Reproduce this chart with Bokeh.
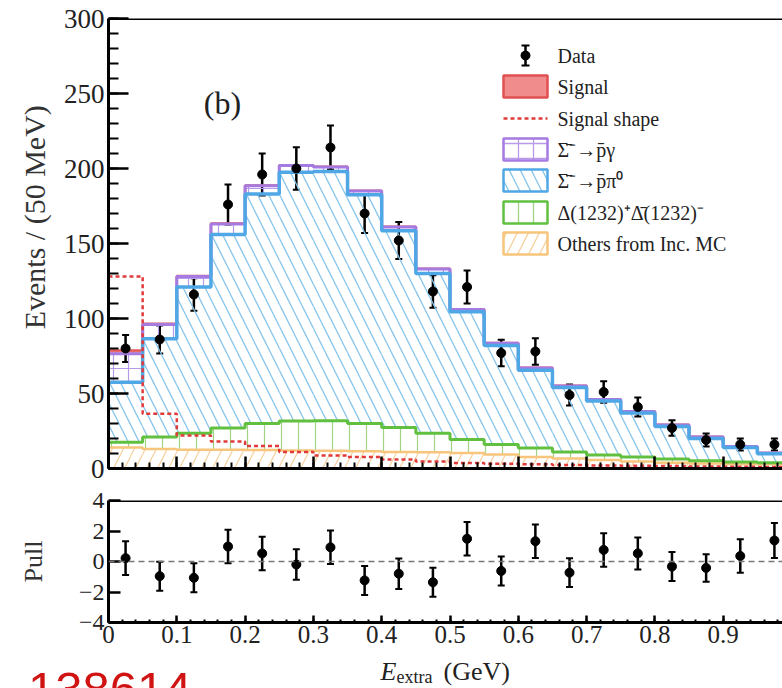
import math
from bokeh.plotting import figure
from bokeh.models import (Range1d, FixedTicker, Span, Label, Whisker, TeeHead,
                          ColumnDataSource)
from bokeh.layouts import column
from bokeh.embed import file_html
from bokeh.resources import INLINE

# ---------------- data ----------------
bin_edges = [0.0, 0.05, 0.1, 0.15, 0.2, 0.25, 0.3, 0.35, 0.4, 0.45, 0.5,
             0.55, 0.6, 0.65, 0.7, 0.75, 0.8, 0.85, 0.9, 0.95, 1.0]
bin_centers = [0.025, 0.075, 0.125, 0.175, 0.225, 0.275, 0.325, 0.375, 0.425, 0.475,
               0.525, 0.575, 0.625, 0.675, 0.725, 0.775, 0.825, 0.875, 0.925, 0.975]
data_counts = [80, 86, 116, 176, 196, 200, 214, 170, 152, 118,
               121, 77, 78, 49, 51, 41, 27, 19, 16, 16]
data_err = [9, 9.3, 10.8, 13.3, 14, 14.1, 14.6, 13, 12.3, 10.9,
            11, 8.8, 8.8, 7, 7.1, 6.4, 5.2, 4.4, 4, 4]
# cumulative stack tops
top_others = [14, 13, 12.5, 12.5, 12.3, 12, 11.8, 11.5, 11, 10.8,
              10.3, 9.3, 7.6, 6.7, 5.6, 4.6, 3.8, 3.3, 3.0, 2.8]
top_delta = [17.5, 21, 23.5, 27, 30, 31.6, 31.8, 30, 27.3, 23.5,
             19.3, 16, 13.6, 11, 9, 7.6, 6.4, 5.2, 4.4, 3.8]
top_sigma_pi0 = [57.5, 86.5, 121, 156, 183, 197.5, 198, 182.5, 158.5, 130,
                 104.5, 82, 65.5, 54, 45, 37, 28, 20, 14, 9.8]
top_sigma_gamma = [76.5, 96, 128, 163, 188.5, 202, 201, 185, 161, 133,
                   106, 83.5, 67, 55, 46, 38, 29, 21, 14.6, 10.3]
top_signal = [78.7, 96.5, 128.3, 163.3, 188.7, 202.2, 201.1, 185.1, 161.1, 133.1,
              106.1, 83.6, 67.1, 55.1, 46.1, 38.1, 29.1, 21.1, 14.7, 10.4]
signal_shape = [128, 36.5, 22, 18, 15, 11, 8.7, 7.6, 6, 4.7,
                3.6, 3.2, 2.8, 2.4, 2.0, 1.8, 1.6, 1.4, 1.2, 1.0]
pull_vals = [0.22, -0.96, -1.07, 0.98, 0.53, -0.2, 0.93, -1.24, -0.8, -1.36,
             1.49, -0.62, 1.33, -0.73, 0.76, 0.53, -0.33, -0.42, 0.36, 1.38]
pull_err = [1.1, 0.95, 0.95, 1.1, 1.1, 1.0, 1.1, 0.95, 1.0, 0.95,
            1.1, 0.95, 1.1, 0.95, 1.1, 1.05, 0.95, 0.9, 1.1, 1.15]

x_ticks = [0, 0.1, 0.2, 0.3, 0.4, 0.5, 0.6, 0.7, 0.8, 0.9]
x_tick_labels = {0: "0", 0.1: "0.1", 0.2: "0.2", 0.3: "0.3", 0.4: "0.4",
                 0.5: "0.5", 0.6: "0.6", 0.7: "0.7", 0.8: "0.8", 0.9: "0.9"}
y_ticks = [0, 50, 100, 150, 200, 250, 300]
pull_ticks = [-4, -2, 0, 2, 4]
pull_tick_labels = {-4: "\u22124", -2: "\u22122", 0: "0", 2: "2", 4: "4"}

SERIF = "Liberation Serif"

# ---------------- layout constants ----------------
W = 782
LEFT = 108
X_END = (W - LEFT) / 683.0     # frame width / px per unit

x_range = Range1d(0, X_END)

left_e = bin_edges[:-1]
right_e = bin_edges[1:]
zeros = [0] * len(left_e)
minor_x = [round(0.02 * i, 2) for i in range(51)]


def step_xy(vals):
    return bin_edges, list(vals) + [vals[-1]]


def style_common(p):
    p.xgrid.grid_line_color = None
    p.ygrid.grid_line_color = None
    p.outline_line_color = None
    p.background_fill_color = "white"
    p.border_fill_color = "white"
    for ax in p.axis:
        ax.axis_line_width = 3
        ax.axis_line_color = "black"
        ax.major_tick_line_width = 2.5
        ax.minor_tick_line_width = 2
        ax.major_tick_line_color = "black"
        ax.minor_tick_line_color = "black"
        ax.major_tick_out = 0
        ax.minor_tick_out = 0
        ax.major_label_text_font = SERIF
        ax.major_label_text_color = "#222222"
        ax.axis_label_text_font = SERIF
        ax.axis_label_text_font_style = "normal"
        ax.axis_label_text_color = "#333333"


# ================= main panel =================
p1 = figure(width=W, height=484, x_range=x_range, y_range=Range1d(0, 300),
            output_backend="svg", toolbar_location=None,
            min_border_left=LEFT, min_border_right=0,
            min_border_top=18, min_border_bottom=16)
p1.extra_x_ranges = {"px": Range1d(LEFT, W)}
p1.extra_y_ranges = {"py": Range1d(468, 18)}
style_common(p1)

p1.xaxis.ticker = FixedTicker(ticks=x_ticks, minor_ticks=minor_x)
p1.xaxis.major_label_overrides = {t: "" for t in x_ticks}
p1.xaxis.major_label_text_font_size = "1px"
p1.xaxis.major_tick_in = 12
p1.xaxis.minor_tick_in = 6
p1.yaxis.ticker = FixedTicker(ticks=y_ticks, minor_ticks=list(range(0, 301, 10)))
p1.yaxis.major_tick_in = 20
p1.yaxis.minor_tick_in = 10
p1.yaxis.major_label_text_font_size = "27px"
p1.yaxis.major_label_standoff = 4
p1.yaxis.axis_label = "\u00a0" * 7 + "Events / (50 MeV)"
p1.yaxis.axis_label_text_font_size = "30px"
p1.yaxis.axis_label_standoff = 10

p1.add_layout(Span(location=300, dimension="width", line_color="black", line_width=3))

# hatched bands
p1.quad(left=left_e, right=right_e, bottom=zeros, top=top_others,
        fill_color=None, line_color=None, hatch_pattern="/",
        hatch_color="#F6CF9A", hatch_scale=22, hatch_weight=1.2)
p1.quad(left=left_e, right=right_e, bottom=top_others, top=top_delta,
        fill_color=None, line_color=None, hatch_pattern="|",
        hatch_color="#9ED483", hatch_scale=17, hatch_weight=1.2)
p1.quad(left=left_e, right=right_e, bottom=top_delta, top=top_sigma_pi0,
        fill_color=None, line_color=None, hatch_pattern="\\",
        hatch_color="#86C4EA", hatch_scale=22, hatch_weight=1.3)
p1.quad(left=left_e, right=right_e, bottom=top_sigma_pi0, top=top_sigma_gamma,
        fill_color=None, line_color=None, hatch_pattern="+",
        hatch_color="#B79AE8", hatch_scale=15, hatch_weight=1.2)
p1.quad(left=left_e, right=right_e, bottom=top_sigma_gamma, top=top_signal,
        fill_color="#F29C9C", line_color=None)

# outlines (signal first so the purple line covers it where the signal is tiny)
for vals, col, lw in [(top_others, "#F7C57C", 2.5), (top_delta, "#62C040", 3),
                      (top_signal, "#E25A5A", 2.5),
                      (top_sigma_gamma, "#A57BE2", 3), (top_sigma_pi0, "#4FA7E6", 3.5)]:
    sx, sy = step_xy(vals)
    p1.step(x=sx, y=sy, mode="after", line_color=col, line_width=lw)

sx, sy = step_xy(signal_shape)
p1.step(x=sx, y=sy, mode="after", line_color="#E03A3A", line_width=2.5, line_dash="4 3")

# data points
src = ColumnDataSource(dict(x=bin_centers, y=data_counts,
                            lo=[c - e for c, e in zip(data_counts, data_err)],
                            hi=[c + e for c, e in zip(data_counts, data_err)]))
p1.add_layout(Whisker(base="x", lower="lo", upper="hi", source=src,
                      line_color="black", line_width=2.5,
                      lower_head=TeeHead(size=7, line_width=2, line_color="black"),
                      upper_head=TeeHead(size=7, line_width=2, line_color="black")))
p1.scatter(x="x", y="y", source=src, size=9, color="black")

# panel tag
p1.add_layout(Label(x=222, y=102, text="(b)", x_range_name="px", y_range_name="py",
                    text_align="center", text_baseline="middle",
                    text_font=SERIF, text_font_size="32px", text_color="#222222"))

# ---------------- legend (pixel coordinates) ----------------
LX0, LX1, TX = 503, 547, 557
rows = [55, 86, 118, 149, 180, 212, 243]
kw = dict(x_range_name="px", y_range_name="py")
p1.segment(x0=[525], y0=[rows[0] - 10], x1=[525], y1=[rows[0] + 10], line_color="black", line_width=2.5, **kw)
p1.segment(x0=[521, 521], y0=[rows[0] - 10, rows[0] + 10], x1=[529, 529], y1=[rows[0] - 10, rows[0] + 10],
           line_color="black", line_width=2, **kw)
p1.scatter(x=[525], y=[rows[0]], size=9, color="black", **kw)
p1.quad(left=[LX0], right=[LX1], bottom=[rows[1] - 11], top=[rows[1] + 11],
        fill_color="#F08C8C", line_color="#E05050", line_width=2.5, **kw)
p1.line(x=[LX0, LX1], y=[rows[2], rows[2]], line_color="#E03A3A", line_width=2.5, line_dash="4 3", **kw)
for r, hp, hc, lc, hs in [(rows[3], "+", "#B79AE8", "#A57BE2", 15),
                          (rows[4], "\\", "#86C4EA", "#4FA7E6", 22),
                          (rows[5], "|", "#9ED483", "#62C040", 15),
                          (rows[6], "/", "#F6CF9A", "#F7C57C", 22)]:
    p1.quad(left=[LX0], right=[LX1], bottom=[r - 11], top=[r + 11],
            fill_color=None, line_color=lc, line_width=2.5,
            hatch_pattern=hp, hatch_color=hc, hatch_scale=hs, hatch_weight=1.3, **kw)

legend_texts = ["Data", "Signal", "Signal shape",
                "\u03a3\u0304\u207b\u2192p\u0304\u03b3",
                "\u03a3\u0304\u207b\u2192p\u0304\u03c0\u2070",
                "\u0394(1232)\u207a\u0394\u0304(1232)\u207b",
                "Others from Inc. MC"]
for r, t in zip(rows, legend_texts):
    p1.add_layout(Label(x=TX, y=r, text=t, text_baseline="middle", text_align="left",
                        text_font=SERIF, text_font_size="20px", text_color="#222222", **kw))

# ================= pull panel =================
p2 = figure(width=W, height=172, x_range=x_range, y_range=Range1d(-4, 4),
            output_backend="svg", toolbar_location=None,
            min_border_left=LEFT, min_border_right=0,
            min_border_top=16, min_border_bottom=34)
style_common(p2)
p2.xaxis.ticker = FixedTicker(ticks=x_ticks, minor_ticks=minor_x)
p2.xaxis.major_label_overrides = x_tick_labels
p2.xaxis.major_label_text_font_size = "25px"
p2.xaxis.major_label_standoff = 3
p2.xaxis.major_tick_in = 7
p2.xaxis.minor_tick_in = 3
p2.yaxis.ticker = FixedTicker(ticks=pull_ticks, minor_ticks=[])
p2.yaxis.major_label_overrides = pull_tick_labels
p2.yaxis.major_label_text_font_size = "24px"
p2.yaxis.major_label_standoff = 4
p2.yaxis.major_tick_in = 12
p2.yaxis.axis_label = "Pull"
p2.yaxis.axis_label_text_font_size = "26px"
p2.yaxis.axis_label_standoff = 28

p2.add_layout(Span(location=4, dimension="width", line_color="black", line_width=3))
p2.add_layout(Span(location=0, dimension="width", line_color="#777777", line_width=1.5, line_dash="6 4"))

psrc = ColumnDataSource(dict(x=bin_centers, y=pull_vals,
                             lo=[v - e for v, e in zip(pull_vals, pull_err)],
                             hi=[v + e for v, e in zip(pull_vals, pull_err)]))
p2.add_layout(Whisker(base="x", lower="lo", upper="hi", source=psrc,
                      line_color="black", line_width=2.5,
                      lower_head=TeeHead(size=7, line_width=2, line_color="black"),
                      upper_head=TeeHead(size=7, line_width=2, line_color="black")))
p2.scatter(x="x", y="y", source=psrc, size=9, color="black")

# ================= bottom strip: x-axis title and red caption =================
# frame spans the whole strip, so x values below are page pixels
p3 = figure(width=W, height=32, x_range=Range1d(0, W), y_range=Range1d(688, 656),
            output_backend="svg", toolbar_location=None,
            x_axis_type=None, y_axis_type=None,
            min_border_left=0, min_border_right=0, min_border_top=0, min_border_bottom=0)
p3.frame_align = False
p3.xgrid.grid_line_color = None
p3.ygrid.grid_line_color = None
p3.outline_line_color = None
p3.border_fill_color = "white"
p3.add_layout(Label(x=380, y=671, text="E", text_font=SERIF, text_font_style="italic",
                    text_font_size="26px", text_color="#222222", text_baseline="alphabetic"))
p3.add_layout(Label(x=396, y=676, text="extra", text_font=SERIF,
                    text_font_size="18px", text_color="#222222", text_baseline="alphabetic"))
p3.add_layout(Label(x=443, y=671, text="(GeV)", text_font=SERIF,
                    text_font_size="26px", text_color="#222222", text_baseline="alphabetic"))
p3.add_layout(Label(x=191, y=661, text=")\u2002\u200a138614", text_font="Liberation Sans",
                    text_align="right", text_font_size="49px", text_color="#D01414",
                    text_baseline="top"))

layout = column(p1, p2, p3, spacing=0)
open("out.html", "w").write(file_html(layout, INLINE))
